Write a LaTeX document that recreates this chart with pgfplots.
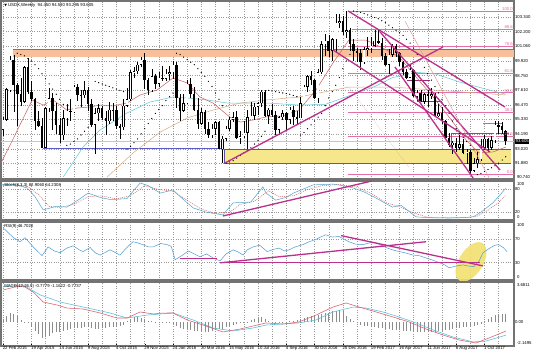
\documentclass[border=0pt]{standalone}
\usepackage{pgfplots}
\pgfplotsset{compat=1.18}
\usepackage{pgfplotstable}
\usepackage{fontspec}
\setmainfont{Liberation Sans}
\newfontfamily\djv{DejaVu Sans}
\newcommand\fs{\fontsize{4.3}{5}\selectfont}
\definecolor{trend}{RGB}{186,48,140}
\definecolor{fibpink}{RGB}{228,110,165}
\definecolor{purpleline}{RGB}{120,100,200}
\definecolor{blueline}{RGB}{90,90,200}
\definecolor{bandorange}{RGB}{247,192,155}
\definecolor{zoneyellow}{RGB}{246,230,140}
\definecolor{ellyellow}{RGB}{242,224,110}
\definecolor{maA}{RGB}{200,95,95}
\definecolor{maB}{RGB}{95,200,215}
\definecolor{maC}{RGB}{215,172,125}
\definecolor{stK}{RGB}{80,165,205}
\definecolor{stD}{RGB}{200,85,85}
\definecolor{rsic}{RGB}{75,155,210}
\definecolor{macdm}{RGB}{220,95,105}
\definecolor{macds}{RGB}{85,190,220}

\pgfplotstableread{
i o h l c
0 94.5 95.5 94.0 95.3
1 95.3 97.8 95.2 97.7
2 97.6 100.3 97.5 100.0
3 100.0 100.4 95.9 98.0
4 98.0 98.2 94.8 97.3
5 97.3 98.6 96.4 96.7
6 96.7 99.5 96.6 99.4
7 99.4 100.1 97.3 97.5
8 97.5 98.3 96.8 96.9
9 96.9 97.0 94.5 95.2
10 95.2 96.0 94.7 94.8
11 94.8 95.4 93.1 93.1
12 93.1 96.3 93.1 96.2
13 96.2 97.8 95.9 97.0
14 97.0 97.4 94.5 96.0
15 96.0 96.6 94.2 94.9
16 94.9 95.4 93.5 94.1
17 94.1 96.1 93.7 95.4
18 95.4 96.5 94.8 96.0
19 96.0 96.9 95.2 95.9
20 95.9 98.0 95.8 97.9
21 97.9 98.1 96.8 97.2
22 97.2 97.6 96.3 97.25
23 97.2 98.3 97.0 97.6
24 97.6 97.9 96.0 96.5
25 96.5 96.9 94.7 94.9
26 94.9 96.2 92.6 95.8
27 95.8 96.5 95.2 96.2
28 96.2 96.4 95.3 95.4
29 95.4 96.0 94.1 95.2
30 95.2 96.7 95.0 96.1
31 96.1 96.6 95.2 96.0
32 96.1 96.4 94.6 94.8
33 94.8 95.0 93.8 94.7
34 94.7 96.9 94.5 96.4
35 96.4 97.8 96.3 96.9
36 96.9 99.2 96.8 99.0
37 99.0 99.4 98.6 99.1
38 99.1 99.8 98.9 99.6
39 99.6 100.2 99.4 100.0
40 100.0 100.5 97.7 98.4
41 98.4 98.6 97.2 97.6
42 97.6 99.3 97.5 98.7
43 98.7 98.9 97.7 98.1
44 98.1 99.0 97.9 98.6
45 98.6 99.5 98.3 98.5
46 98.5 99.3 98.3 98.9
47 98.9 99.5 98.4 99.0
48 99.0 99.9 98.5 99.6
49 99.6 99.8 96.2 97.0
50 97.0 97.3 95.2 96.0
51 96.0 97.3 95.9 96.6
52 96.6 98.4 96.5 98.1
53 98.1 98.6 97.0 97.3
54 97.3 97.9 96.0 96.1
55 96.1 97.0 94.6 95.0
56 95.0 96.2 94.9 95.9
57 95.9 96.1 94.2 94.6
58 94.6 95.1 93.9 94.1
59 94.1 95.0 93.9 94.6
60 94.6 95.2 94.1 95.1
61 95.1 95.2 93.0 93.05
62 93.0 94.0 91.9 93.8
63 93.8 94.8 93.6 94.6
64 94.6 95.5 94.4 95.3
65 95.3 95.9 95.1 95.5
66 95.5 96.0 93.8 93.9
67 93.9 94.4 93.4 94.0
68 94.0 95.2 93.9 94.3
69 94.3 96.1 93.0 95.5
70 95.5 96.7 95.4 95.6
71 95.6 96.6 95.3 96.3
72 96.3 96.7 95.7 96.6
73 96.6 97.6 96.3 97.5
74 97.5 97.6 95.5 95.6
75 95.6 96.2 95.0 96.1
76 96.1 96.5 95.5 95.7
77 95.7 96.0 94.1 94.5
78 94.5 95.6 94.1 95.5
79 95.5 96.1 95.3 95.8
80 95.8 95.9 94.4 95.3
81 95.3 96.3 95.0 96.1
82 96.1 96.4 94.9 95.5
83 95.5 96.0 95.0 95.4
84 95.4 97.1 95.4 96.6
85 96.6 98.0 96.6 97.9
86 97.9 98.8 97.5 98.7
87 98.7 99.1 98.0 98.4
88 98.4 98.5 96.9 97.0
89 97.0 99.3 96.6 99.0
90 99.0 101.5 98.9 101.2
91 101.2 102.0 100.3 101.5
92 101.5 101.9 100.2 100.7
93 100.7 101.7 99.9 101.6
94 101.6 103.6 100.6 102.9
95 102.9 103.6 102.5 103.0
96 103.0 103.4 101.9 102.2
97 102.2 103.8 101.7 102.3
98 102.3 102.5 100.7 101.2
99 101.2 101.6 99.9 100.7
100 100.7 100.9 99.8 100.5
101 100.5 100.8 99.2 99.8
102 99.8 101.0 99.7 100.8
103 100.8 101.8 100.3 100.9
104 100.9 101.8 100.5 101.1
105 101.1 102.3 101.0 101.5
106 101.5 102.3 101.2 101.3
107 101.3 101.7 100.0 100.3
108 100.3 100.5 99.5 99.6
109 99.6 100.8 98.9 100.4
110 100.4 101.2 100.2 101.1
111 101.1 101.2 100.2 100.5
112 100.5 100.6 99.5 99.8
113 99.8 99.9 98.8 99.0
114 99.0 99.3 98.5 98.6
115 98.6 99.6 98.6 99.2
116 99.2 99.3 97.1 97.15
117 97.1 97.6 96.8 97.4
118 97.4 97.6 96.7 96.75
119 96.7 97.4 96.5 97.3
120 97.3 97.6 96.3 97.2
121 97.2 97.8 96.9 97.3
122 97.3 97.4 95.5 95.6
123 95.6 96.5 95.5 95.8
124 95.8 96.3 95.0 95.2
125 95.2 95.3 93.85 93.9
126 93.9 94.3 93.2 93.3
127 93.3 93.6 92.6 93.5
128 93.5 93.9 92.8 93.1
129 93.1 94.1 92.9 93.4
130 93.4 93.8 92.6 92.7
131 92.7 93.0 91.8 92.8
132 92.8 92.9 91.0 91.3
133 91.3 92.3 91.2 91.9
134 91.9 92.8 91.5 92.2
135 92.2 93.8 92.1 93.1
136 93.1 94.1 92.9 93.8
137 93.8 93.9 92.8 93.1
138 93.1 94.0 92.9 93.7
139 93.7 95.2 93.5 94.9
140 94.9 95.2 94.2 94.8
141 94.8 95.1 94.2 94.5
142 94.45 94.53 93.295 93.605
}\price

\pgfplotsset{panel/.style={
  anchor=south west, scale only axis, width=513bp,
  xmin=-0.6, xmax=144.35,
  axis line style={draw=black!55, line width=1.3bp},
  xtick={0,8,...,136}, minor xtick={4,12,...,140},
  xticklabels={}, xmajorgrids, xminorgrids,
  major grid style={dotted, black!40, line width=0.4bp},
  minor grid style={dotted, black!40, line width=0.4bp},
  ytick pos=right, yticklabel pos=right,
  xtick style={draw=none}, minor tick length=0pt,
  ytick style={draw=black, line width=0.3bp},
  major tick length=1.5bp,
  tick label style={font=\fs, inner sep=0.5bp},
  yticklabel style={anchor=west, xshift=0.3bp},
  clip mode=individual,
}}
\tikzset{edgelab/.style={font=\fs, inner sep=0.5bp, xshift=2.3bp}}

\begin{document}
\begin{tikzpicture}
\path[use as bounding box, fill=white] (0,0) rectangle (536bp,358bp);

% ================= MAIN PRICE PANEL =================
\begin{axis}[panel, at={(1bp,179bp)}, height=178bp,
  ymin=90.664, ymax=104.592, ymajorgrids,
  ytick={90.74,91.88,93.02,94.19,95.33,96.47,97.61,98.75,99.92,101.06,102.2,103.34},
  yticklabels={,91.880,93.020,94.190,95.330,96.470,97.610,98.750,99.920,101.060,102.200,103.340}]
% zones
\addplot[fill=bandorange, draw=none] coordinates {(2.8,100.72) (144.35,100.72) (144.35,100.22) (2.8,100.22)} -- cycle;
\addplot[fill=zoneyellow, draw=none] coordinates {(62.4,93.01) (143.5,93.01) (143.5,91.92) (62.4,91.92)} -- cycle;
\addplot[draw=purpleline!80!black, line width=0.6bp] coordinates {(143.5,93.01) (62.4,93.01) (62.4,91.92)};
\addplot[draw=trend, line width=0.8bp] coordinates {(62.4,91.92) (143.5,91.92)};
\addplot[draw=purpleline, line width=1.2bp] coordinates {(2.8,100.78) (144.35,100.78)};
\addplot[draw=blueline, line width=0.9bp] coordinates {(11.3,93.09) (61.6,93.09)};
\addplot[draw=black!22, line width=0.4bp] coordinates {(-0.6,93.605) (144.35,93.605)};
% fibonacci levels
\addplot[fibpink, line width=0.6bp] coordinates {(97.5,103.82) (144.35,103.82)};
\addplot[fibpink, line width=0.6bp] coordinates {(98.5,102.36) (144.35,102.36)};
\addplot[fibpink, line width=0.6bp] coordinates {(97.5,101.08) (144.35,101.08)};
\addplot[fibpink, line width=0.6bp] coordinates {(97.5,98.93) (144.35,98.93)};
\addplot[fibpink, line width=0.6bp] coordinates {(97.5,97.42) (144.35,97.42)};
\addplot[fibpink, line width=0.6bp] coordinates {(97.5,95.90) (144.35,95.90)};
\addplot[fibpink, line width=0.6bp] coordinates {(97.5,94.03) (144.35,94.03)};
\addplot[fibpink, line width=0.6bp] coordinates {(97.5,91.01) (144.35,91.01)};
% short levels
\addplot[trend!80!black, line width=0.8bp] coordinates {(114.2,98.41) (120.6,98.41)};
\addplot[trend!80!black, line width=0.8bp] coordinates {(117,96.77) (124,96.77)};
\addplot[trend, line width=0.6bp] coordinates {(126.6,93.09) (126.6,94.26) (142.9,94.26)};
\addplot[orange!80!red, line width=0.6bp] coordinates {(135.6,95.05) (141.2,95.05)};
% moving averages
\addplot[maC, line width=0.5bp] coordinates {(29.4,90.82) (36.7,92.70) (44.4,94.34) (52,95.44) (59.3,96.06) (67,96.61) (74.6,96.85) (83.6,97.08) (97.7,97.86) (110,97.86) (121.5,97.63) (142,97.24)};
\addplot[maB, line width=0.5bp] coordinates {(17,90.82) (22.6,93.17) (27.4,94.5) (35,95.83) (41.5,96.69) (48,97.08) (52,97.0) (57.6,96.85) (63.3,96.61) (69.8,96.61) (74.6,96.61) (83.6,96.45) (91,96.5) (96,97.0) (105,97.9) (110,98.6) (117,99.0) (122,98.9) (129,98.25) (135,97.8) (142,97.3)};
\addplot[maA, line width=0.5bp] coordinates {(-0.6,91.92) (3,93.9) (8.2,96.85) (11.3,96.45) (14.1,96.85) (18,96.06) (21,96.22) (24.6,96.30) (27.4,96.45) (31,96.38) (35,96.61) (38.7,97.24) (43.5,97.63) (48,98.57) (52,98.18) (55.6,97.08) (59.3,96.61) (64,95.52) (67,95.12) (70.6,95.28) (74.3,95.52) (79,95.6) (83.6,96.06) (88.4,97.63) (93.2,99.74) (97.7,101.54) (102.5,101.54) (107.3,100.91) (111.9,100.21) (116.7,98.64) (121.5,97.08) (126,95.52) (130.8,93.72) (134.5,92.70) (138.4,92.78) (142.1,93.17)};
% parabolic SAR
\addplot[only marks, mark=*, mark size=0.35bp, black] table[row sep=\\] {
x y\\ 4 100.5\\ 5 100.4\\ 6 100.3\\ 7 100.1\\ 8 99.9\\ 9 99.6\\ 10 99.3\\ 11 98.9\\ 12 98.5\\ 13 98.1\\ 14 97.7\\ 15 97.3\\ 16 96.9\\ 17 96.5\\
18 93.3\\ 19 93.4\\ 20 93.6\\ 21 93.8\\ 22 94.1\\ 23 94.4\\ 24 94.7\\ 25 95.0\\
26 98.3\\ 27 98.2\\ 28 98.1\\ 29 98.0\\ 30 97.9\\ 31 97.8\\ 32 97.7\\ 33 97.6\\ 34 97.5\\
35 93.0\\ 36 93.2\\ 37 93.5\\ 38 93.8\\ 39 94.2\\ 40 94.6\\ 41 95.0\\ 42 95.4\\ 43 95.8\\ 44 96.1\\ 45 96.4\\ 46 96.8\\ 47 97.1\\ 48 97.4\\
49 100.5\\ 50 100.4\\ 51 100.2\\ 52 100.0\\ 53 99.8\\ 54 99.6\\ 55 99.3\\ 56 99.0\\ 57 98.7\\ 58 98.3\\ 59 97.9\\ 60 97.4\\ 61 96.9\\ 62 96.4\\
63 91.9\\ 64 92.0\\ 65 92.1\\ 66 92.3\\ 67 92.5\\ 68 92.7\\ 69 92.9\\ 70 93.1\\ 71 93.4\\ 72 93.7\\ 73 94.0\\ 74 94.4\\
75 97.6\\ 76 97.55\\ 77 97.5\\ 78 97.45\\ 79 97.4\\ 80 97.35\\ 81 97.3\\ 82 97.2\\ 83 97.1\\
84 94.1\\ 85 94.3\\ 86 94.6\\ 87 94.9\\ 88 95.2\\ 89 95.5\\ 90 95.8\\ 91 96.4\\ 92 97.0\\ 93 97.5\\ 94 98.0\\ 95 98.6\\ 96 99.3\\ 97 99.9\\ 98 100.4\\
99 103.8\\ 100 103.75\\ 101 103.7\\ 102 103.6\\ 103 103.5\\ 104 103.4\\ 105 103.3\\ 106 103.2\\ 107 103.05\\ 108 102.9\\ 109 102.7\\ 110 102.5\\ 111 102.3\\ 112 102.1\\ 113 101.9\\ 114 101.6\\ 115 101.3\\ 116 100.9\\ 117 100.4\\ 118 100.0\\ 119 99.4\\ 120 98.9\\ 121 98.4\\ 122 97.9\\ 123 97.4\\ 124 96.9\\ 125 96.4\\ 126 95.8\\ 127 95.2\\ 128 94.6\\ 129 94.2\\ 130 93.9\\ 131 93.6\\ 132 93.3\\ 133 92.95\\
134 91.0\\ 135 91.1\\ 136 91.25\\ 137 91.4\\ 138 91.55\\ 139 91.7\\ 140 91.9\\ 141 92.15\\ 142 92.4\\
};
% candles: wicks, bodies, bullish fill
\addplot[draw=none, mark=none, error bars/.cd, y dir=both, y explicit, error mark=none,
  error bar style={draw=black, line width=0.45bp}]
  table[x=i, y expr={(\thisrow{h}+\thisrow{l})/2}, y error expr={(\thisrow{h}-\thisrow{l})/2}] {\price};
\addplot[draw=none, mark=none, error bars/.cd, y dir=both, y explicit, error mark=none,
  error bar style={draw=black, line width=2.5bp}]
  table[x=i, y expr={(\thisrow{o}+\thisrow{c})/2}, y error expr={max(abs(\thisrow{c}-\thisrow{o})/2,0.03)}] {\price};
\addplot[draw=none, mark=none, error bars/.cd, y dir=both, y explicit, error mark=none,
  error bar style={draw=white, line width=1.5bp}]
  table[x=i, y expr={(\thisrow{o}+\thisrow{c})/2}, y error expr={max((\thisrow{c}-\thisrow{o})/2-0.04,0)}] {\price};
% trend lines
\addplot[trend, line width=1.3bp] coordinates {(97.46,103.81) (141.8,96.30)};
\addplot[trend, line width=1.3bp] coordinates {(93.2,100.76) (137.6,92.78)};
\addplot[trend, line width=1.3bp] coordinates {(106.5,102.17) (140.4,91.37)};
\addplot[trend, line width=1.3bp] coordinates {(110.7,99.43) (132.8,90.74)};
\addplot[trend, line width=1.3bp] coordinates {(62.7,91.92) (124.3,100.99)};
\addplot[maA!70, line width=0.4bp] coordinates {(113.6,103.0) (138.6,90.1)};
\addplot[maA!70, line width=0.4bp, densely dotted] coordinates {(97.7,97.86) (114.6,91.6)};
% labels
\node[anchor=north west, font=\fs, inner sep=0] at (rel axis cs:0.006,0.985) {{\djv\fontsize{3.5}{4}\selectfont▼} USDX,Weekly\ \ 94.450 94.530 93.295 93.605};
\node[anchor=south east, font=\fs, text=fibpink, inner sep=0.4bp] at (axis cs:144.2,103.82) {100.0};
\node[anchor=south east, font=\fs, text=fibpink, inner sep=0.4bp] at (axis cs:144.2,102.36) {88.6};
\node[anchor=south east, font=\fs, text=fibpink, inner sep=0.4bp] at (axis cs:144.2,101.08) {78.6};
\node[anchor=south east, font=\fs, text=fibpink, inner sep=0.4bp] at (axis cs:144.2,98.93) {61.8};
\node[anchor=south east, font=\fs, text=fibpink, inner sep=0.4bp] at (axis cs:144.2,97.42) {50.0};
\node[anchor=south east, font=\fs, text=fibpink, inner sep=0.4bp] at (axis cs:144.2,95.90) {38.2};
\node[anchor=south east, font=\fs, text=fibpink, inner sep=0.4bp] at (axis cs:144.2,94.03) {23.6};
\node[anchor=south east, font=\fs, text=fibpink, inner sep=0.4bp] at (axis cs:144.2,91.01) {0.0};
\node[anchor=west, font=\fs, fill=black, text=white, inner sep=0.6bp] at (axis cs:144.6,93.605) {93.605};
\node[anchor=south west, edgelab, yshift=0.2bp] at (rel axis cs:1,0) {90.740};
\end{axis}

% ================= STOCHASTIC =================
\begin{axis}[panel, at={(1bp,138bp)}, height=39bp,
  ymin=0, ymax=100, ytick={0,20,80,100}, yticklabels={,20,80,}, ymajorgrids]
\addplot[stD, line width=0.45bp, dash pattern=on 1bp off 1bp] coordinates {(-0.6,88) (3,91) (7,86) (10,65) (13,35) (16,32) (20,40) (24,60) (28,62) (32,54) (36,62) (40,88) (44,78) (48,74) (52,50) (56,28) (60,17) (64,20) (67,40) (71,48) (75,75) (78,60) (82,62) (86,78) (90,88) (95,91) (100,84) (104,68) (108,45) (112,34) (116,18) (120,7) (126,6) (131,6) (134,10) (137,25) (140,45) (142.1,64)};
\addplot[stK, line width=0.5bp] coordinates {(-0.6,90) (2,92) (4.5,88) (6.8,82) (9,60) (11.3,26) (13,30) (15,35) (18,33) (21,50) (24,69) (27.4,58) (30.5,52) (35,55) (38.7,95) (41,88) (44.4,69) (48,77) (50,60) (53.7,31) (57.4,20) (62.1,13) (65,44) (68,45) (70,46) (73.4,85) (74.3,69) (77,51) (80,58) (82,69) (85,80) (87.6,90) (93.2,92) (96,88) (98.9,82) (102,72) (105.4,56) (110,33) (112.4,38) (116.7,8) (120,6) (126,5) (130,6) (132.8,8) (135,20) (138.4,44) (142.1,82)};
\addplot[trend, line width=1.3bp] coordinates {(62.1,10.3) (104.2,100)};
\node[anchor=north west, font=\fs, inner sep=0] at (rel axis cs:0.006,0.95) {Stoch(8,3,3) 82.9060 64.2308};
\node[anchor=north west, edgelab, yshift=-0.6bp] at (rel axis cs:1,1) {100};
\node[anchor=south west, edgelab, yshift=0.6bp] at (rel axis cs:1,0) {0};
\end{axis}

% ================= RSI =================
\begin{axis}[panel, at={(1bp,78bp)}, height=58bp,
  ymin=0, ymax=100, ytick={0,30,70,100}, yticklabels={,30,70,}, ymajorgrids]
\fill[ellyellow, opacity=0.9, rotate around={-32:(axis cs:132.2,31.3)}] (axis cs:132.2,31.3) ellipse (12bp and 22bp);
\addplot[rsic, line width=0.5bp] coordinates {(0,90) (2.9,73) (4.8,66) (6.2,73) (8.5,57) (11,42) (12.7,57) (14.5,50) (16.1,47) (18,55) (19.8,59) (21.5,52) (22.6,49) (24.6,56) (26,47) (27.4,43) (29,48) (30.2,52) (31.5,48) (33,43) (34.8,55) (36.7,66) (38,64) (39.5,61) (41,57) (42.4,57) (44.5,63) (46.3,61) (47.5,58) (48.6,35) (50.5,42) (52.3,50) (54,45) (55.6,40) (57.5,45) (59.3,38) (61.3,33) (63,45) (65,52) (66.5,48) (67.8,43) (69,52) (70.6,57) (72.5,60) (74.6,49) (76.5,53) (78,55) (79.5,50) (80.8,52) (82.5,57) (84.7,61) (86.5,66) (88.4,70) (90,75) (91.2,78) (93,74) (94.9,75) (96.5,70) (97.7,66) (99.5,62) (101.7,61) (103.5,64) (105.4,64) (106.8,60) (108.2,56) (110,52) (111.9,49) (113.5,47) (115.8,43) (117.5,42) (119.5,38) (121.5,34) (123.2,30) (124.8,26) (126,21) (128,24) (130,26) (131.5,24) (133,23) (134.5,33) (135.6,47) (137.5,55) (139,60) (140,61) (141.3,56) (142.4,49)};
\addplot[trend, line width=1.3bp] coordinates {(50,36.5) (60.5,36.5)};
\addplot[trend, line width=1.3bp] coordinates {(61.3,29.6) (134.7,29.6)};
\addplot[trend, line width=1.3bp] coordinates {(61.3,29.6) (119.5,66)};
\addplot[trend, line width=1.3bp] coordinates {(95.5,76.5) (135.6,24.3)};
\node[anchor=north west, font=\fs, inner sep=0] at (rel axis cs:0.006,0.96) {RSI(9) 46.7020};
\node[anchor=north west, edgelab, yshift=-0.6bp] at (rel axis cs:1,1) {100};
\node[anchor=south west, edgelab, yshift=0.6bp] at (rel axis cs:1,0) {0};
\end{axis}

% ================= MACD =================
\begin{axis}[panel, at={(1bp,12bp)}, height=64bp,
  ymin=-2.1495, ymax=3.6811, ytick={-2.1495,0,3.6811}, yticklabels={,0.00,},
  xtick pos=bottom, xtick style={draw=black, line width=0.3bp},
  xticklabels={22 Feb 2015,19 Apr 2015,14 Jun 2015,9 Aug 2015,4 Oct 2015,29 Nov 2015,24 Jan 2016,20 Mar 2016,15 May 2016,10 Jul 2016,4 Sep 2016,30 Oct 2016,25 Dec 2016,19 Feb 2017,16 Apr 2017,11 Jun 2017,6 Aug 2017,1 Oct 2017},
  xticklabel style={anchor=north west, xshift=-1bp, yshift=0.5bp}]
\addplot[ycomb, black!45, line width=0.6bp, mark=none] table[row sep=\\] {
x y\\ 0 0.3\\ 1 0.6\\ 2 0.9\\ 3 0.8\\ 4 0.6\\ 5 0.2\\ 6 0.05\\ 7 0.05\\ 8 -0.4\\ 9 -0.8\\ 10 -1.1\\ 11 -1.4\\ 12 -1.3\\ 13 -1.2\\ 14 -1.0\\ 15 -0.9\\ 16 -0.9\\ 17 -0.8\\ 18 -0.7\\ 19 -0.6\\ 20 -0.5\\ 21 -0.5\\ 22 -0.5\\ 23 -0.4\\ 24 -0.4\\ 25 -0.5\\ 26 -0.6\\ 27 -0.6\\ 28 -0.5\\ 29 -0.5\\ 30 -0.4\\ 31 -0.4\\ 32 -0.4\\ 33 -0.3\\ 34 -0.2\\
35 0.1\\ 36 0.3\\ 37 0.45\\ 38 0.5\\ 39 0.4\\ 40 0.3\\ 41 0.15\\ 42 0.1\\ 43 0.05\\ 44 0.05\\ 45 0.05\\ 46 0.04\\ 47 0.04\\
48 -0.1\\ 49 -0.3\\ 50 -0.5\\ 51 -0.6\\ 52 -0.6\\ 53 -0.7\\ 54 -0.8\\ 55 -0.8\\ 56 -0.9\\ 57 -0.9\\ 58 -0.9\\ 59 -0.8\\ 60 -0.7\\ 61 -0.6\\ 62 -0.6\\ 63 -0.4\\ 64 -0.3\\ 65 -0.2\\ 66 -0.1\\
67 0.04\\ 68 0.05\\ 69 0.05\\ 70 0.2\\ 71 0.35\\ 72 0.4\\ 73 0.45\\ 74 0.3\\ 75 0.1\\ 76 0.04\\ 77 -0.04\\ 78 -0.05\\ 79 0.04\\ 80 0.05\\
81 0.1\\ 82 0.15\\ 83 0.2\\ 84 0.3\\ 85 0.4\\ 86 0.5\\ 87 0.6\\ 88 0.7\\ 89 0.7\\ 90 0.8\\ 91 0.9\\ 92 0.9\\ 93 1.0\\ 94 1.05\\ 95 1.1\\ 96 1.0\\ 97 0.6\\ 98 0.3\\ 99 0.1\\ 100 0.05\\
101 -0.2\\ 102 -0.3\\ 103 -0.35\\ 104 -0.4\\ 105 -0.45\\ 106 -0.5\\ 107 -0.55\\ 108 -0.6\\ 109 -0.6\\ 110 -0.65\\ 111 -0.7\\ 112 -0.7\\ 113 -0.75\\ 114 -0.8\\ 115 -0.8\\ 116 -0.85\\ 117 -0.9\\ 118 -0.9\\ 119 -0.9\\ 120 -0.9\\ 121 -0.85\\ 122 -0.85\\ 123 -0.8\\ 124 -0.75\\ 125 -0.7\\ 126 -0.65\\ 127 -0.6\\ 128 -0.55\\ 129 -0.5\\ 130 -0.45\\ 131 -0.4\\ 132 -0.35\\ 133 -0.3\\ 134 -0.2\\ 135 -0.1\\
136 0.1\\ 137 0.3\\ 138 0.5\\ 139 0.7\\ 140 0.8\\ 141 0.8\\ 142 0.75\\
};
\addplot[macds, line width=0.55bp] coordinates {(0,3.22) (3,3.35) (5.6,3.41) (10.5,2.50) (16.1,1.86) (22.6,1.40) (30.2,0.86) (35,0.40) (40.7,0.67) (48,0.86) (53.7,0.22) (59.3,-0.51) (65,-0.78) (70.6,-0.51) (74.3,-0.24) (83.6,-0.05) (88.4,0.22) (93.2,0.95) (98.9,1.40) (102.5,1.31) (107.3,0.95) (111.9,0.49) (116.7,-0.05) (121.5,-0.69) (127.1,-1.33) (132.8,-1.78) (136.4,-1.70) (142.1,-1.16)};
\addplot[macdm, line width=0.55bp] coordinates {(0,2.95) (3,3.2) (5.6,3.32) (8.5,2.77) (11.3,1.86) (15.3,1.58) (18,1.31) (22.6,1.22) (27.4,0.86) (32.2,0.40) (35,0.40) (38.7,0.95) (42.4,0.77) (45,0.85) (48,0.86) (52,0.22) (56.5,-0.24) (62.1,-0.87) (67,-0.60) (71.8,-0.24) (74.3,-0.05) (79.1,-0.15) (83.6,0.04) (88.4,0.67) (93.2,1.40) (96.9,1.77) (100.6,1.40) (105.4,0.95) (110.2,0.49) (114.7,0.04) (119.5,-0.60) (124.3,-1.15) (128.8,-1.60) (133.6,-1.88) (137.3,-1.42) (142.1,-0.78)};
\node[anchor=north west, font=\fs, inner sep=0] at (rel axis cs:0.006,0.97) {MACD(12,26,9) -0.7779 -1.1622 -0.7737};
\node[anchor=north west, edgelab, yshift=-0.6bp] at (rel axis cs:1,1) {3.6811};
\node[anchor=south west, edgelab, yshift=0.6bp] at (rel axis cs:1,0) {-2.1495};
\end{axis}
\end{tikzpicture}
\end{document}
